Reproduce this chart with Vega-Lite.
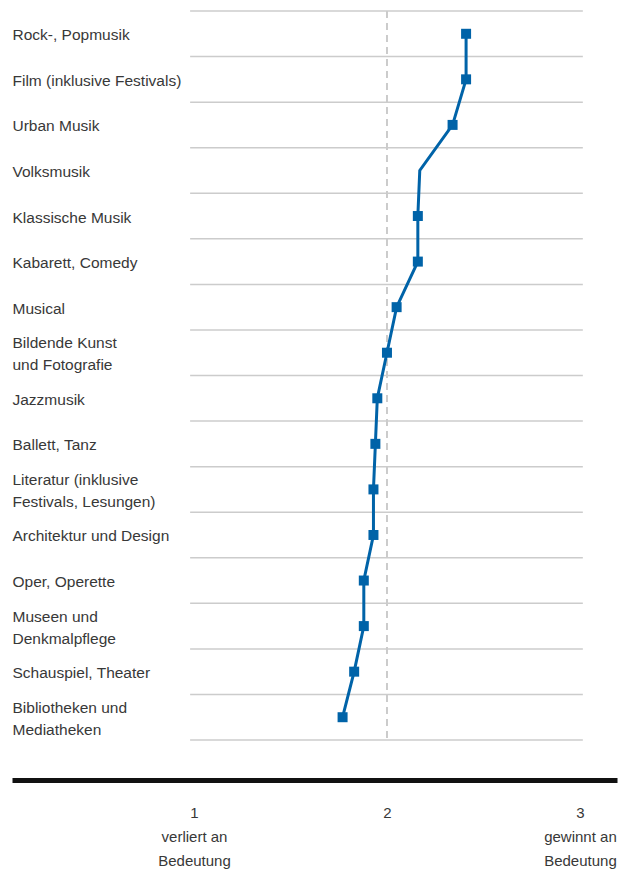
{
  "$schema": "https://vega.github.io/schema/vega-lite/v6.json",
  "autosize": "none",
  "width": 605,
  "height": 729,
  "padding": {"left": 12, "top": 11, "right": 12, "bottom": 129},
  "background": "white",
  "config": {
    "view": {"stroke": null},
    "font": "Liberation Sans",
    "axis": {"labelFont": "Liberation Sans", "labelFontSize": 15.5, "labelColor": "#383838", "grid": false, "title": null}
  },
  "data": {
    "values": [
      {"rank": 1, "cat": "Rock-, Popmusik", "v": 2.41},
      {"rank": 2, "cat": "Film (inklusive Festivals)", "v": 2.41},
      {"rank": 3, "cat": "Urban Musik", "v": 2.34},
      {"rank": 4, "cat": "Volksmusik", "v": 2.17},
      {"rank": 5, "cat": "Klassische Musik", "v": 2.16},
      {"rank": 6, "cat": "Kabarett, Comedy", "v": 2.16},
      {"rank": 7, "cat": "Musical", "v": 2.05},
      {"rank": 8, "cat": "Bildende Kunst\nund Fotografie", "v": 2.0},
      {"rank": 9, "cat": "Jazzmusik", "v": 1.95},
      {"rank": 10, "cat": "Ballett, Tanz", "v": 1.94},
      {"rank": 11, "cat": "Literatur (inklusive\nFestivals, Lesungen)", "v": 1.93},
      {"rank": 12, "cat": "Architektur und Design", "v": 1.93},
      {"rank": 13, "cat": "Oper, Operette", "v": 1.88},
      {"rank": 14, "cat": "Museen und\nDenkmalpflege", "v": 1.88},
      {"rank": 15, "cat": "Schauspiel, Theater", "v": 1.83},
      {"rank": 16, "cat": "Bibliotheken und\nMediatheken", "v": 1.77}
    ]
  },
  "layer": [
    {
      "mark": {"type": "rule", "stroke": "#cccccc", "strokeWidth": 1.5},
      "encoding": {
        "y": {"field": "cat", "type": "nominal", "sort": null, "bandPosition": 0,
              "scale": {"paddingInner": 0, "paddingOuter": 0},
              "axis": {"orient": "left", "labelAlign": "left", "labelPadding": 0, "tickSize": 0, "ticks": false, "domain": false,
                       "labelBaseline": "middle", "labelLineHeight": 22, "labelLimit": 300, "labelBound": false, "labelOverlap": false,
                       "labelOffset": {"condition": {"test": "indexof(datum.value, '\\n') >= 0", "value": -9.5}, "value": 1.5},
                       "labelExpr": "split(datum.value, '\\n')", "bandPosition": 0.5}},
        "x": {"datum": 0.98, "type": "quantitative"},
        "x2": {"datum": 3.015}
      }
    },
    {
      "transform": [{"filter": "datum.rank == 16"}],
      "mark": {"type": "rule", "stroke": "#cccccc", "strokeWidth": 1.5},
      "encoding": {
        "y": {"field": "cat", "type": "nominal", "sort": null, "bandPosition": 1},
        "x": {"datum": 0.98, "type": "quantitative"},
        "x2": {"datum": 3.015}
      }
    },
    {
      "mark": {"type": "rule", "stroke": "#cccccc", "strokeWidth": 1.5, "strokeDash": [7, 5]},
      "encoding": {
        "x": {"datum": 2, "type": "quantitative"}
      }
    },
    {
      "mark": {"type": "line", "color": "#0063a8", "strokeWidth": 3},
      "encoding": {
        "y": {"field": "cat", "type": "nominal", "sort": null},
        "x": {"field": "v", "type": "quantitative",
              "scale": {"domain": [0.057, 3.192], "nice": false, "zero": false},
              "axis": {"orient": "bottom", "offset": 40, "values": [1, 2, 3], "ticks": false, "tickSize": 0,
                       "domainColor": "#111111", "domainWidth": 5, "labelPadding": 25, "labelLineHeight": 24,
                       "labelBaseline": "top", "labelAlign": "center", "labelFontSize": 15,
                       "labelExpr": "datum.value == 1 ? ['1', 'verliert an', 'Bedeutung'] : datum.value == 3 ? ['3', 'gewinnt an', 'Bedeutung'] : '2'"}},
        "order": {"field": "rank", "type": "quantitative"}
      }
    },
    {
      "transform": [{"filter": "datum.cat != 'Volksmusik'"}],
      "mark": {"type": "point", "shape": "square", "filled": true, "size": 100, "color": "#0063a8", "opacity": 1},
      "encoding": {
        "y": {"field": "cat", "type": "nominal", "sort": null},
        "x": {"field": "v", "type": "quantitative"}
      }
    }
  ]
}
